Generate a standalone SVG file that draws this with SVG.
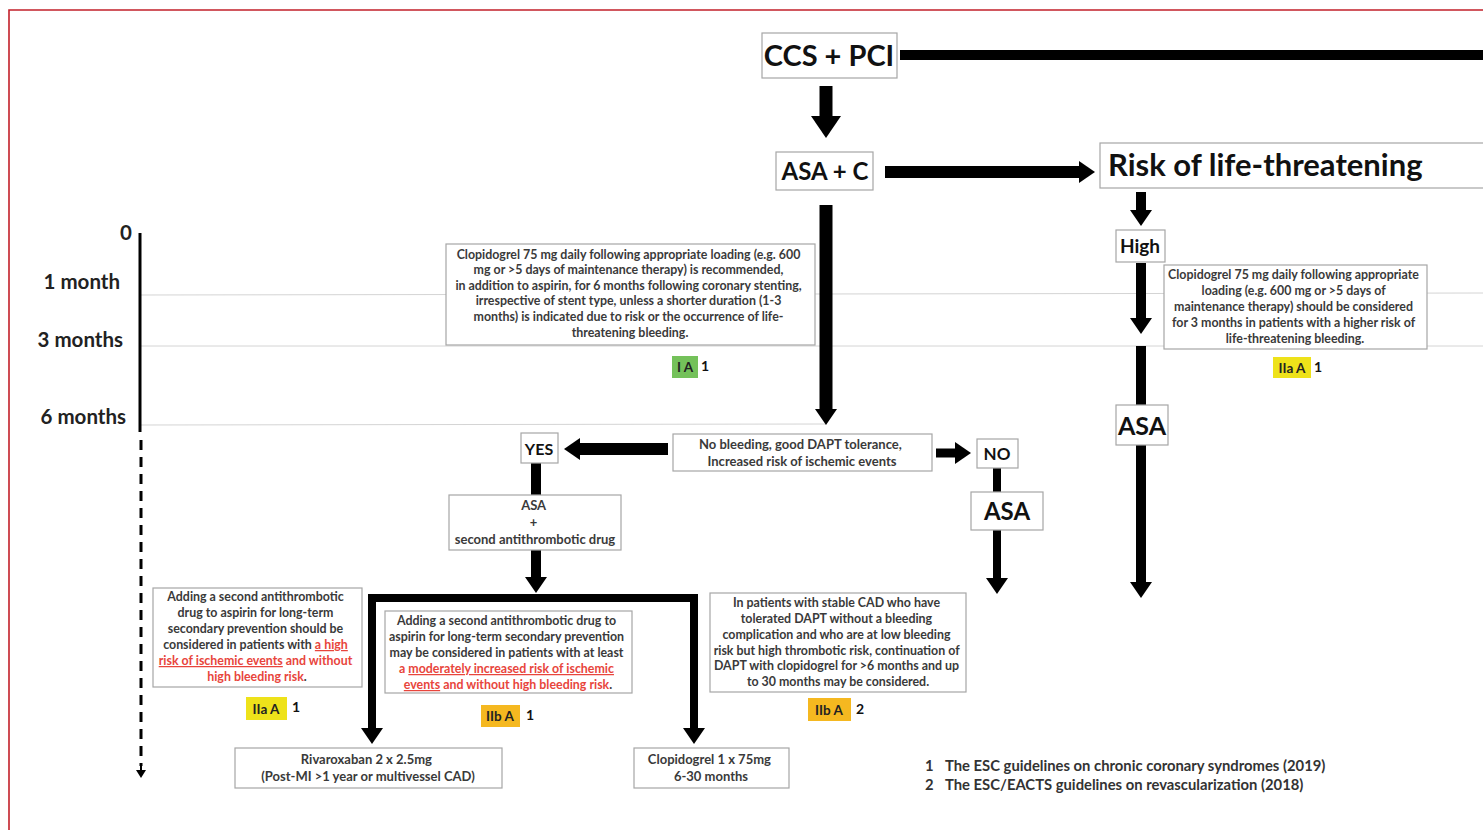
<svg xmlns="http://www.w3.org/2000/svg" width="1483" height="830" viewBox="0 0 1483 830">
  <style>
    text { font-family: Lato, "Liberation Sans", sans-serif; font-weight: bold; }
    .box { fill: #fff; stroke: #a6a6a6; stroke-width: 1.2; }
    .big { fill: #111; }
    .sm { fill: #3a3a3a; font-size: 12.4px; text-anchor: middle; }
    .md { fill: #3a3a3a; font-size: 13px; text-anchor: middle; }
    .red { fill: #e8453c; }
    .ul { text-decoration: underline; }
    .grid { stroke: #d4d4d4; stroke-width: 1; }
    .bar { stroke: #000; fill: none; }
    .axl { fill: #222; font-size: 20.5px; text-anchor: end; }
    .num { fill: #111; font-size: 14px; }
    .foot { fill: #333; font-size: 14.8px; }
    .g { fill: #74c15a; }
    .y { fill: #eee21a; }
    .o { fill: #f5b820; }
    .badge { fill: #222; font-size: 13.5px; text-anchor: middle; }
  </style>
  <defs>
    <marker id="hd" markerUnits="userSpaceOnUse" viewBox="0 -15 22 30" refX="0" refY="0" markerWidth="22" markerHeight="30" orient="auto">
      <path d="M0,-15 L22,0 L0,15 Z" fill="#000"/>
    </marker>
    <marker id="hs" markerUnits="userSpaceOnUse" viewBox="0 -11 16 22" refX="0" refY="0" markerWidth="16" markerHeight="22" orient="auto">
      <path d="M0,-11 L16,0 L0,11 Z" fill="#000"/>
    </marker>
    <marker id="ht" markerUnits="userSpaceOnUse" viewBox="0 -5 8 10" refX="0" refY="0" markerWidth="8" markerHeight="10" orient="auto">
      <path d="M0,-5 L8,0 L0,5 Z" fill="#000"/>
    </marker>
  </defs>

  <rect width="1483" height="830" fill="#fff"/>
  <!-- frame -->
  <path d="M9,830 V10 H1483" fill="none" stroke="#c2202a" stroke-width="1.6"/>

  <!-- time grid -->
  <g id="grid">
    <line class="grid" x1="140" y1="295" x2="1483" y2="293"/>
    <line class="grid" x1="140" y1="346" x2="1483" y2="346"/>
    <line class="grid" x1="140" y1="425" x2="826" y2="424"/>
  </g>

  <!-- time axis -->
  <g id="axis">
    <line x1="140" y1="233" x2="140" y2="432" stroke="#000" stroke-width="3"/>
    <line x1="141" y1="440" x2="141" y2="766" stroke="#000" stroke-width="3" stroke-dasharray="10,7"/>
    <line x1="141" y1="766" x2="141" y2="770" stroke="#000" stroke-width="2" marker-end="url(#ht)"/>
    <text class="axl" x="132" y="240">0</text>
    <text class="axl" x="120" y="289">1 month</text>
    <text class="axl" x="123" y="347">3 months</text>
    <text class="axl" x="126" y="424">6 months</text>
  </g>

  <!-- connectors -->
  <g id="connectors">
    <line class="bar" x1="900" y1="55" x2="1483" y2="55" stroke-width="10"/>
    <line class="bar" x1="826" y1="86" x2="826" y2="116" stroke-width="13" marker-end="url(#hd)"/>
    <line class="bar" x1="885" y1="172" x2="1079" y2="172" stroke-width="12" marker-end="url(#hs)"/>
    <line class="bar" x1="1141" y1="192" x2="1141" y2="210" stroke-width="10" marker-end="url(#hs)"/>
    <line class="bar" x1="1141" y1="263" x2="1141" y2="318" stroke-width="10" marker-end="url(#hs)"/>
    <line class="bar" x1="1141" y1="346" x2="1141" y2="582" stroke-width="10" marker-end="url(#hs)"/>
    <line class="bar" x1="826" y1="205" x2="826" y2="409" stroke-width="13" marker-end="url(#hs)"/>
    <line class="bar" x1="668" y1="449" x2="580" y2="449" stroke-width="12" marker-end="url(#hs)"/>
    <line class="bar" x1="936" y1="453" x2="955" y2="453" stroke-width="9" marker-end="url(#hs)"/>
    <line class="bar" x1="997" y1="468" x2="997" y2="494" stroke-width="8"/>
    <line class="bar" x1="997" y1="530" x2="997" y2="578" stroke-width="8" marker-end="url(#hs)"/>
    <line class="bar" x1="536" y1="463" x2="536" y2="496" stroke-width="10"/>
    <line class="bar" x1="536" y1="550" x2="536" y2="577" stroke-width="10" marker-end="url(#hs)"/>
    <path class="bar" d="M372,728 V598 H694 V728" stroke-width="8"/>
    <line class="bar" x1="372" y1="727" x2="372" y2="728" stroke-width="8" marker-end="url(#hs)"/>
    <line class="bar" x1="694" y1="727" x2="694" y2="728" stroke-width="8" marker-end="url(#hs)"/>
  </g>

  <!-- nodes -->
  <g id="ccs-pci">
    <rect class="box" x="762" y="33" width="135" height="45"/>
    <text class="big" x="829" y="66" font-size="29" text-anchor="middle">CCS + PCI</text>
  </g>
  <g id="asa-c">
    <rect class="box" x="776" y="152" width="97" height="38"/>
    <text class="big" x="825" y="180" font-size="24" text-anchor="middle">ASA + C</text>
  </g>
  <g id="risk">
    <rect class="box" x="1100" y="143" width="390" height="45"/>
    <text class="big" x="1108" y="176" font-size="31">Risk of life-threatening</text>
  </g>
  <g id="high">
    <rect class="box" x="1116" y="230" width="49" height="32"/>
    <text class="big" x="1140" y="253" font-size="19" text-anchor="middle">High</text>
  </g>
  <g id="asa-high">
    <rect class="box" x="1116" y="405" width="52" height="40"/>
    <text class="big" x="1142" y="435" font-size="25" text-anchor="middle">ASA</text>
  </g>
  <g id="rec-3m">
    <rect class="box" x="1164" y="265" width="263" height="84"/>
    <text class="sm">
      <tspan x="1295" y="279">Clopidogrel 75 mg daily following appropriate</tspan>
      <tspan x="1295" y="295">loading (e.g. 600 mg or &gt;5 days of</tspan>
      <tspan x="1295" y="311">maintenance therapy) should be considered</tspan>
      <tspan x="1295" y="327">for 3 months in patients with a higher risk of</tspan>
      <tspan x="1295" y="343">life-threatening bleeding.</tspan>
    </text>
    <rect class="y" x="1273" y="357" width="38" height="21"/>
    <text class="badge" x="1292" y="373">IIa A</text>
    <text class="num" x="1314" y="372">1</text>
  </g>
  <g id="rec-6m">
    <rect class="box" x="446" y="244" width="369" height="101"/>
    <text class="sm">
      <tspan x="630" y="259">Clopidogrel 75 mg daily following appropriate loading (e.g. 600</tspan>
      <tspan x="630" y="274">mg or &gt;5 days of maintenance therapy) is recommended,</tspan>
      <tspan x="630" y="290">in addition to aspirin, for 6 months following coronary stenting,</tspan>
      <tspan x="630" y="305">irrespective of stent type, unless a shorter duration (1-3</tspan>
      <tspan x="630" y="321">months) is indicated due to risk or the occurrence of life-</tspan>
      <tspan x="630" y="337">threatening bleeding.</tspan>
    </text>
    <rect class="g" x="672" y="356" width="26" height="22"/>
    <text class="badge" x="685" y="372">I A</text>
    <text class="num" x="701" y="371">1</text>
  </g>
  <g id="decision">
    <rect class="box" x="673" y="434" width="259" height="37"/>
    <text class="md" font-size="13.5">
      <tspan x="802" y="449">No bleeding, good DAPT tolerance,</tspan>
      <tspan x="802" y="466">Increased risk of ischemic events</tspan>
    </text>
  </g>
  <g id="yes">
    <rect class="box" x="521" y="433" width="37" height="30"/>
    <text class="big" x="539" y="455" font-size="16" text-anchor="middle">YES</text>
  </g>
  <g id="no">
    <rect class="box" x="977" y="439" width="41" height="29"/>
    <text class="big" x="997" y="460" font-size="17" text-anchor="middle">NO</text>
  </g>
  <g id="asa-no">
    <rect class="box" x="971" y="492" width="72" height="38"/>
    <text class="big" x="1007" y="520" font-size="24" text-anchor="middle">ASA</text>
  </g>
  <g id="asa-second">
    <rect class="box" x="449" y="495" width="172" height="55"/>
    <text class="md">
      <tspan x="535" y="510">ASA</tspan>
      <tspan x="535" y="527">+</tspan>
      <tspan x="535" y="544">second antithrombotic drug</tspan>
    </text>
  </g>
  <g id="rec-high-risk">
    <rect class="box" x="153" y="588" width="209" height="99"/>
    <text class="sm">
      <tspan x="257" y="601">Adding a second antithrombotic</tspan>
      <tspan x="257" y="617">drug to aspirin for long-term</tspan>
      <tspan x="257" y="633">secondary prevention should be</tspan>
      <tspan x="257" y="649">considered in patients with <tspan class="red ul">a high</tspan></tspan>
      <tspan x="257" y="665"><tspan class="red ul">risk of ischemic events</tspan><tspan class="red"> and without</tspan></tspan>
      <tspan x="257" y="681"><tspan class="red">high bleeding risk</tspan>.</tspan>
    </text>
    <rect class="y" x="246" y="697" width="41" height="23"/>
    <text class="badge" x="266" y="714">IIa A</text>
    <text class="num" x="292" y="712">1</text>
  </g>
  <g id="rec-moderate-risk">
    <rect class="box" x="385" y="611" width="247" height="82"/>
    <text class="sm">
      <tspan x="508" y="625">Adding a second antithrombotic drug to</tspan>
      <tspan x="508" y="641">aspirin for long-term secondary prevention</tspan>
      <tspan x="508" y="657">may be considered in patients with at least</tspan>
      <tspan x="508" y="673"><tspan class="red">a </tspan><tspan class="red ul">moderately increased risk of ischemic</tspan></tspan>
      <tspan x="508" y="689"><tspan class="red ul">events</tspan><tspan class="red"> and without high bleeding risk</tspan>.</tspan>
    </text>
    <rect class="o" x="481" y="705" width="39" height="22"/>
    <text class="badge" x="500" y="721">IIb A</text>
    <text class="num" x="526" y="720">1</text>
  </g>
  <g id="rec-dapt">
    <rect class="box" x="710" y="593" width="256" height="99"/>
    <text class="sm">
      <tspan x="838" y="607">In patients with  stable CAD who have</tspan>
      <tspan x="838" y="623">tolerated DAPT without a bleeding</tspan>
      <tspan x="838" y="639">complication and who are at low bleeding</tspan>
      <tspan x="838" y="655">risk but high thrombotic risk, continuation of</tspan>
      <tspan x="838" y="670">DAPT with clopidogrel for &gt;6 months and up</tspan>
      <tspan x="838" y="686">to 30 months may be considered.</tspan>
    </text>
    <rect class="o" x="808" y="698" width="43" height="23"/>
    <text class="badge" x="829" y="715">IIb A</text>
    <text class="num" x="856" y="714">2</text>
  </g>
  <g id="rivaroxaban">
    <rect class="box" x="235" y="748" width="267" height="40"/>
    <text class="md">
      <tspan x="368" y="764">Rivaroxaban 2 x 2.5mg</tspan>
      <tspan x="368" y="781">(Post-MI &gt;1 year or multivessel CAD)</tspan>
    </text>
  </g>
  <g id="clopidogrel-long">
    <rect class="box" x="634" y="748" width="155" height="40"/>
    <text class="md">
      <tspan x="711" y="764">Clopidogrel 1 x 75mg</tspan>
      <tspan x="711" y="781">6-30 months</tspan>
    </text>
  </g>

  <!-- references -->
  <g id="footnotes">
    <text class="foot" x="925" y="771">1</text>
    <text class="foot" x="945" y="771">The ESC guidelines on chronic coronary syndromes (2019)</text>
    <text class="foot" x="925" y="790">2</text>
    <text class="foot" x="945" y="790">The ESC/EACTS guidelines on revascularization (2018)</text>
  </g>
</svg>
